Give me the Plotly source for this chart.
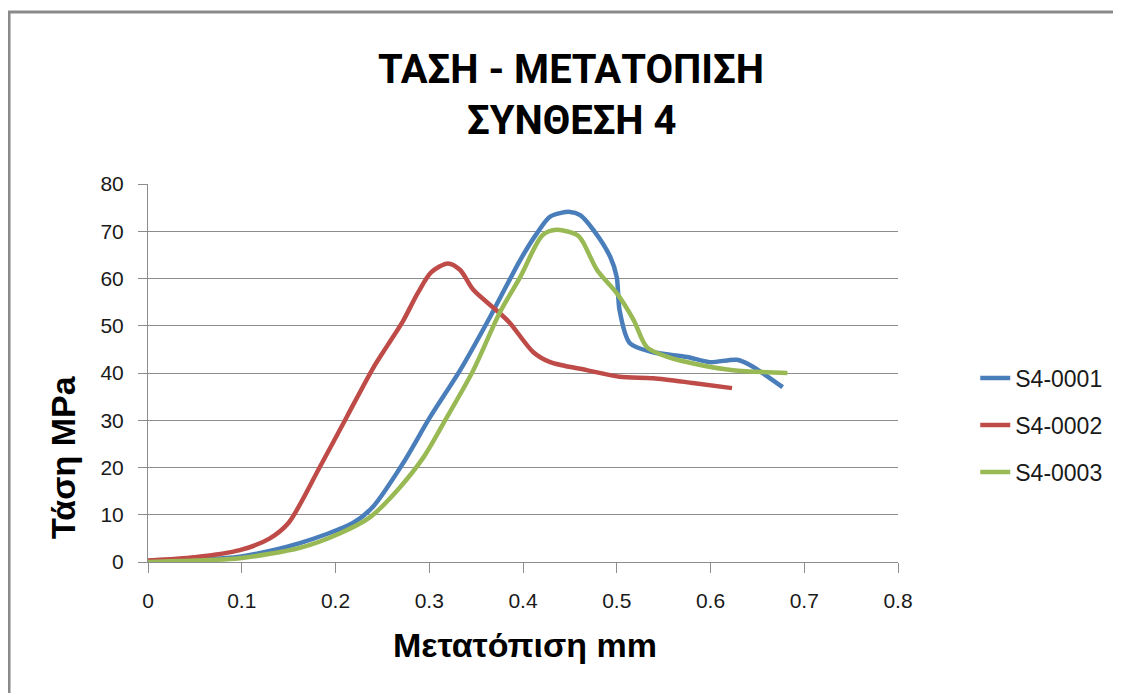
import plotly.graph_objects as go

# --- data ---
s1_x = [0, 0.05, 0.098, 0.162, 0.219, 0.240, 0.272, 0.301, 0.333, 0.365, 0.397, 0.415, 0.429,
        0.450, 0.461, 0.475, 0.493, 0.500, 0.503, 0.514, 0.539, 0.575, 0.599, 0.628, 0.642, 0.677]
s1_y = [0.2, 0.5, 1.1, 4.0, 8.3, 11.7, 20.9, 30.7, 40.6, 51.9, 63.9, 69.6, 73.1,
        74.1, 73.4, 70.3, 64.6, 60.3, 53.3, 46.3, 44.4, 43.4, 42.3, 42.8, 41.7, 37.0]

s2_x = [0, 0.05, 0.098, 0.130, 0.150, 0.183, 0.212, 0.240, 0.256, 0.272, 0.288, 0.302, 0.320,
        0.333, 0.347, 0.375, 0.386, 0.411, 0.429, 0.468, 0.503, 0.539, 0.581, 0.623]
s2_y = [0.3, 1.0, 2.5, 5.0, 8.3, 20.0, 30.7, 41.0, 46.0, 51.0, 57.0, 61.3, 63.2,
        61.8, 57.6, 52.7, 50.6, 44.4, 42.3, 40.6, 39.2, 38.9, 37.9, 36.8]

s3_x = [0, 0.05, 0.098, 0.162, 0.205, 0.237, 0.266, 0.294, 0.319, 0.347, 0.375, 0.397, 0.421,
        0.436, 0.458, 0.464, 0.479, 0.500, 0.518, 0.532, 0.554, 0.589, 0.624, 0.682]
s3_y = [0.0, 0.3, 0.8, 3.0, 6.1, 9.5, 15.2, 22.2, 30.7, 40.6, 52.7, 60.3, 69.2,
        70.3, 69.2, 67.7, 61.8, 56.9, 51.2, 45.5, 43.4, 41.7, 40.6, 40.0]

series_names = ["S4-0001", "S4-0002", "S4-0003"]
series_colors = ["#4A7EBB", "#BE4B48", "#98B954"]

x_ticks = [0, 0.1, 0.2, 0.3, 0.4, 0.5, 0.6, 0.7, 0.8]
x_tick_labels = ["0", "0.1", "0.2", "0.3", "0.4", "0.5", "0.6", "0.7", "0.8"]
y_ticks = [0, 10, 20, 30, 40, 50, 60, 70, 80]

title_line1 = "ΤΑΣΗ - ΜΕΤΑΤΟΠΙΣΗ"
title_line2 = "ΣΥΝΘΕΣΗ 4"
x_title = "Μετατόπιση mm"
y_title = "Τάση MPa"

TITLE_FONT = "Roboto, DejaVu Sans Condensed, sans-serif"
BODY_FONT = "Liberation Sans, Arial, sans-serif"
GRID = "#8C8C8C"

fig = go.Figure()
for xs, ys, name, col in zip([s1_x, s2_x, s3_x], [s1_y, s2_y, s3_y], series_names, series_colors):
    fig.add_trace(go.Scatter(
        x=xs, y=ys, name=name, mode="lines",
        line=dict(color=col, width=4.5, shape="spline", smoothing=0.8),
        legendgroup=name,
    ))

fig.update_layout(
    width=1113, height=685,
    margin=dict(l=140, r=223, t=176, b=131),
    paper_bgcolor="white", plot_bgcolor="white",
    showlegend=True,
    legend=dict(
        x=1.103, y=0.362, xanchor="left", yanchor="middle",
        font=dict(family=BODY_FONT, size=23, color="#1a1a1a"),
        tracegroupgap=14, bgcolor="rgba(0,0,0,0)",
    ),
    xaxis=dict(
        range=[0, 0.8], tickvals=x_ticks, ticktext=x_tick_labels,
        showgrid=False, zeroline=False,
        showline=True, linecolor=GRID, linewidth=1,
        ticks="outside", ticklen=10, tickcolor=GRID, tickwidth=1,
        ticklabelstandoff=10,
        tickfont=dict(family=BODY_FONT, size=21, color="#1a1a1a"),
        fixedrange=True,
    ),
    yaxis=dict(
        range=[0, 80], tickvals=y_ticks,
        showgrid=True, gridcolor=GRID, gridwidth=1, zeroline=False,
        showline=True, linecolor=GRID, linewidth=1,
        ticks="outside", ticklen=9, tickcolor=GRID, tickwidth=1,
        ticklabelstandoff=10,
        tickfont=dict(family=BODY_FONT, size=21, color="#1a1a1a"),
        fixedrange=True,
    ),
    annotations=[
        dict(text=title_line1, x=0.564, y=1.3016, xref="paper", yref="paper",
             xanchor="center", yanchor="middle", showarrow=False,
             font=dict(family=TITLE_FONT, size=40, color="black", weight=700)),
        dict(text=title_line2, x=0.564, y=1.169, xref="paper", yref="paper",
             xanchor="center", yanchor="middle", showarrow=False,
             font=dict(family=TITLE_FONT, size=40, color="black", weight=700)),
        dict(text=x_title, x=0.5027, y=-0.2196, xref="paper", yref="paper",
             xanchor="center", yanchor="middle", showarrow=False,
             font=dict(family=BODY_FONT, size=34, color="black", weight=700)),
        dict(text=y_title, x=-0.1133, y=0.278, xref="paper", yref="paper",
             xanchor="center", yanchor="middle", showarrow=False, textangle=-90,
             font=dict(family=BODY_FONT, size=34, color="black", weight=700)),
    ],
    shapes=[
        dict(type="rect", xref="paper", yref="paper", x0=-0.1853, x1=1.33, y0=-0.45, y1=1.455,
             line=dict(color="#8A8A8A", width=3), fillcolor="rgba(0,0,0,0)", layer="below"),
    ],
)

fig.write_html("out.html")
